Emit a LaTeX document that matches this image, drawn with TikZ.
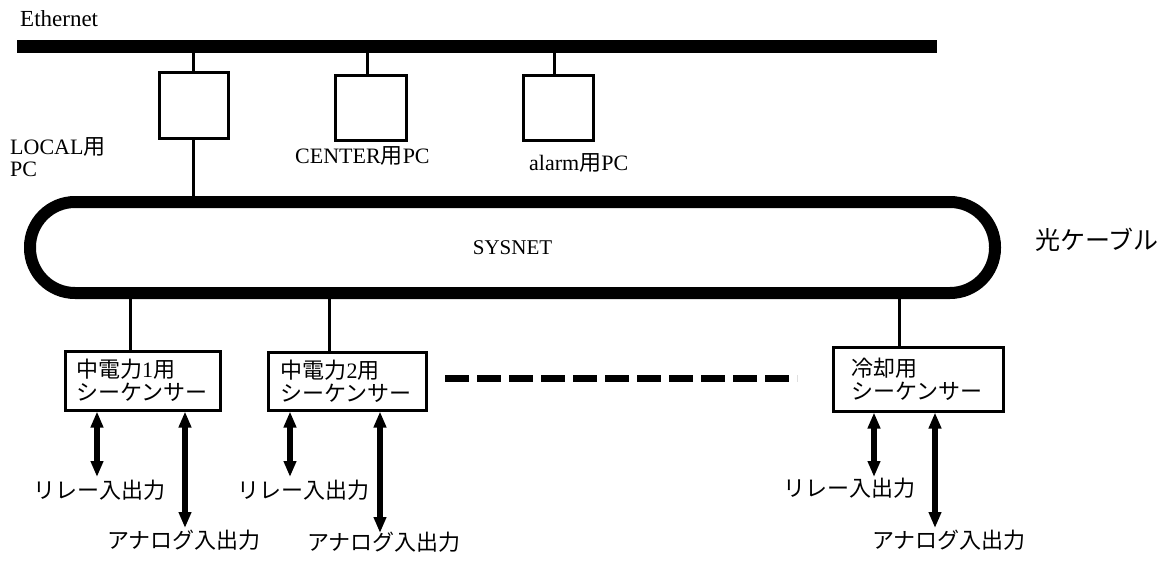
\documentclass[tikz,border=0pt]{standalone}
\usepackage{fontspec}
\setmainfont{Liberation Serif}
\newfontfamily\jp{Noto Sans CJK JP}
\usetikzlibrary{arrows.meta}
\tikzset{
  bus/.style={line width=13pt},
  ring/.style={draw, line width=12pt, rounded corners=45pt, inner sep=0pt,
    minimum width=965pt, minimum height=91pt, font=\fontsize{21}{21}\selectfont},
  pcbox/.style={draw, line width=3pt, inner sep=0pt},
  seqbox/.style={draw, line width=3pt, inner sep=0pt, align=left,
    text width=133pt, font=\fontsize{22}{23}\selectfont},
  tlabel/.style={inner sep=0pt, font=\fontsize{22}{22}\selectfont},
  link/.style={line width=3pt},
  io/.style={line width=5.5pt,
    {Triangle[width=12pt,length=16pt]}-{Triangle[width=12pt,length=16pt]}},
  dots/.style={line width=7pt, dash pattern=on 24pt off 8pt},
}

\begin{document}
\begin{tikzpicture}[x=1pt, y=-1pt]
  \useasboundingbox (0,0) rectangle (1175,562);
  % Ethernet bus and PCs
  \coordinate (eth-l) at (17,46);
  \coordinate (eth-r) at (937,46);
  \draw[bus] (eth-l) -- (eth-r);
  \node[tlabel, anchor=west, font=\fontsize{23}{23}\selectfont] (ethlbl) at (20,19) {Ethernet};
  \node[pcbox, minimum width=69pt, minimum height=66pt] (lpc) at (193.5,105) {};
  \node[pcbox, minimum width=71pt, minimum height=65pt] (cpc) at (370.5,107.5) {};
  \node[pcbox, minimum width=70pt, minimum height=65pt] (apc) at (558,107.5) {};
  \node[tlabel, anchor=west, align=left] (lpclbl) at (10,157) {LOCAL{\jp 用}\\PC};
  \node[tlabel, anchor=west] (cpclbl) at (295,156) {CENTER{\jp 用}PC};
  \node[tlabel, anchor=west] (apclbl) at (529,163) {alarm{\jp 用}PC};
  \draw[link] (lpc.north) -- (lpc.north |- eth-l);
  \draw[link] ([xshift=-3pt]cpc.north) -- ([xshift=-3pt]cpc.north |- eth-l);
  \draw[link] ([xshift=-4pt]apc.north) -- ([xshift=-4pt]apc.north |- eth-l);
  % SYSNET ring
  \node[ring] (sysnet) at (512.5,247.5) {SYSNET};
  \node[tlabel, anchor=west, font=\fontsize{25}{25}\selectfont\jp] (fiber) at (1035,240) {光ケーブル};
  \draw[link] (lpc.south) -- (lpc.south |- sysnet.north);
  % sequencers
  \node[seqbox, minimum width=155pt, minimum height=59pt] (seq1) at (142.5,380.5)
    {{\jp 中電力}1{\jp 用}\\{\jp シーケンサー}};
  \node[seqbox, minimum width=158pt, minimum height=58pt] (seq2) at (347,381)
    {{\jp 中電力}2{\jp 用}\\{\jp シーケンサー}};
  \node[seqbox, minimum width=170pt, minimum height=64pt] (cool) at (918,379)
    {{\jp 冷却用}\\{\jp シーケンサー}};
  \draw[link] ([xshift=-12.5pt]seq1.north) -- ([xshift=-12.5pt]seq1.north |- sysnet.south);
  \draw[link] ([xshift=-18pt]seq2.north) -- ([xshift=-18pt]seq2.north |- sysnet.south);
  \draw[link] ([xshift=-19pt]cool.north) -- ([xshift=-19pt]cool.north |- sysnet.south);
  \coordinate (dl) at (445,378);
  \coordinate (dr) at (797,378);
  \draw[dots] (dl) -- (dr);
  % inputs and outputs
  \node[tlabel, anchor=west] (rel1) at (33,490) {\jp リレー入出力};
  \node[tlabel, anchor=west] (rel2) at (237,490) {\jp リレー入出力};
  \node[tlabel, anchor=west] (rel3) at (783,488) {\jp リレー入出力};
  \node[tlabel, anchor=west] (ana1) at (107,540) {\jp アナログ入出力};
  \node[tlabel, anchor=west] (ana2) at (307,542) {\jp アナログ入出力};
  \node[tlabel, anchor=west] (ana3) at (872,540) {\jp アナログ入出力};
  \coordinate (r1) at (97,477);
  \coordinate (a1) at (185,528);
  \coordinate (r2) at (290,477);
  \coordinate (a2) at (380,533);
  \coordinate (r3) at (874,477);
  \coordinate (a3) at (935,528);
  \draw[io] (r1 |- seq1.south) -- (r1);
  \draw[io] (a1 |- seq1.south) -- (a1);
  \draw[io] (r2 |- seq2.south) -- (r2);
  \draw[io] (a2 |- seq2.south) -- (a2);
  \draw[io] (r3 |- cool.south) -- (r3);
  \draw[io] (a3 |- cool.south) -- (a3);
\end{tikzpicture}
\end{document}
